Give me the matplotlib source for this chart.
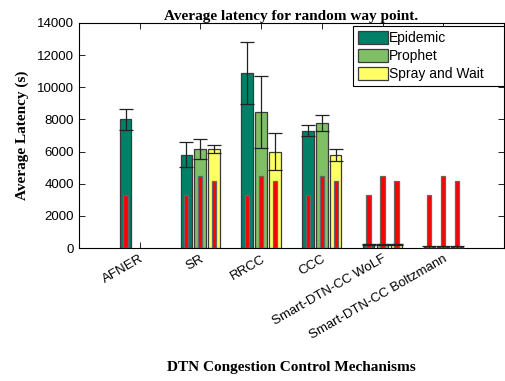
import numpy as np
import matplotlib
matplotlib.use('Agg')
import matplotlib.pyplot as plt

# Data
mechanisms = ['AFNER', 'SR', 'RRCC', 'CCC', 'Smart-DTN-CC WoLF', 'Smart-DTN-CC Boltzmann']
epidemic = [8000, 5800, 10900, 7300, 220, 60]
epidemic_err = [670, 780, 1930, 350, 40, 40]
prophet = [0, 6150, 8450, 7800, 220, 90]
prophet_err = [0, 610, 2220, 500, 40, 60]
spray = [0, 6150, 6000, 5800, 220, 60]
spray_err = [0, 260, 1140, 380, 40, 40]
# thin red bars inside every bar
red_epidemic = [3300, 3300, 3300, 3300, 3300, 3300]
red_prophet = [0, 4500, 4500, 4500, 4500, 4500]
red_spray = [0, 4150, 4150, 4150, 4150, 4150]

plt.rcParams['font.family'] = ['Liberation Sans', 'DejaVu Sans']

fig = plt.figure(figsize=(5.05, 3.81), dpi=100)
ax = fig.add_axes([0.156, 0.349, 0.842, 0.591])

x = np.arange(1, len(mechanisms) + 1)
off = 0.23
w = 0.19
rw = 0.07
colors = ['#008066', '#80bf66', '#ffff66']
series = [(epidemic, epidemic_err, 'Epidemic', red_epidemic),
          (prophet, prophet_err, 'Prophet', red_prophet),
          (spray, spray_err, 'Spray and Wait', red_spray)]

for i, (vals, errs, name, reds) in enumerate(series):
	pos = x + (i - 1) * off
	vals = np.array(vals)
	reds = np.array(reds)
	keep = vals > 0
	ax.bar(pos[keep], vals[keep], width=w, color=colors[i], edgecolor='#3a3a3a',
	       linewidth=0.9, label=name, zorder=2)
	keep = reds > 0
	ax.bar(pos[keep], reds[keep], width=rw, color='red', edgecolor='#666666',
	       linewidth=0.9, zorder=3)
	mask = np.array(errs) > 0
	ax.errorbar(pos[mask], vals[mask], yerr=np.array(errs)[mask],
	            fmt='none', ecolor='#222222', elinewidth=0.9, capsize=5,
	            capthick=0.9, zorder=4)

ax.set_xlim(0, 7)
ax.set_ylim(0, 14000)
ax.set_yticks(np.arange(0, 14001, 2000))
ax.set_xticks(x)
ax.set_xticklabels(mechanisms, rotation=30, ha='right', rotation_mode='anchor',
                   fontsize=9.5)
ax.tick_params(axis='y', labelsize=9.5)
ax.tick_params(direction='in', top=True, right=True, length=4, width=0.6)

ax.set_title('Average latency for random way point.', fontfamily='Liberation Serif',
             fontweight='bold', fontsize=11, pad=2)
ax.set_ylabel('Average Latency (s)', fontfamily='Liberation Serif',
              fontweight='bold', fontsize=11, labelpad=6)
ax.set_xlabel('DTN Congestion Control Mechanisms', fontfamily='Liberation Serif',
              fontweight='bold', fontsize=11, labelpad=14)

leg = ax.legend(loc='upper left', bbox_to_anchor=(0.645, 0.985, 0.355, 0.0),
                mode='expand', fontsize=10, fancybox=False, framealpha=1,
                edgecolor='black', borderaxespad=0, handlelength=2.15,
                handleheight=1.0, handletextpad=0.1, labelspacing=0.3,
                borderpad=0.35)
leg.get_frame().set_linewidth(0.8)

fig.savefig('out.png', dpi=100)
